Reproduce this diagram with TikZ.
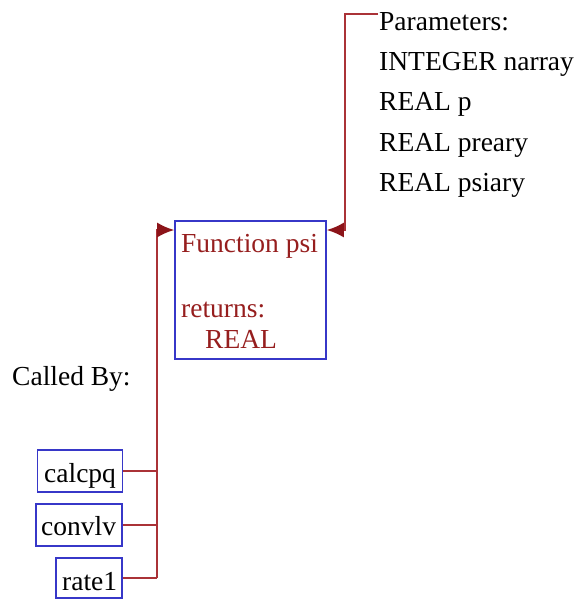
\documentclass[tikz,border=0pt]{standalone}
\usepackage{fontspec}
\setmainfont{Liberation Serif}
\usetikzlibrary{arrows.meta}
\definecolor{linered}{RGB}{170,50,55}
\definecolor{tipred}{RGB}{140,20,25}
\definecolor{boxblue}{RGB}{55,55,200}
\definecolor{txtred}{RGB}{150,30,30}
\tikzset{
  txt/.style={font=\fontsize{27.5}{27.5}\selectfont, inner sep=0pt, anchor=base west},
  redtxt/.style={txt, text=txtred},
  fbox/.style={draw=boxblue, line width=1.6pt, inner sep=0pt},
  conn/.style={draw=linered, line width=2pt},
  arr/.style={conn, -{Latex[length=17pt,width=15pt,color=tipred]}}
}
\begin{document}
\begin{tikzpicture}[x=1pt,y=-1pt]
\useasboundingbox (0,0) rectangle (583,600);
% main box
\node[fbox, minimum width=151pt, minimum height=138pt] (psi) at (250.5,290) {};
\node[redtxt] (fn) at (181,252) {Function psi};
\node[redtxt] (ret) at (181,317) {returns:};
\node[redtxt] (real) at (205,348) {REAL};
% parameters
\node[txt] (p0) at (379,30) {Parameters:};
\node[txt] (p1) at (379,70) {INTEGER narray};
\node[txt] (p2) at (379,110) {REAL p};
\node[txt] (p3) at (379,151) {REAL preary};
\node[txt] (p4) at (379,191) {REAL psiary};
% called by
\node[txt] (cb) at (12,385) {Called By:};
\node[fbox, minimum width=85pt, minimum height=42pt] (c1) at (80,471) {};
\node[txt] (c1t) at (44,482) {calcpq};
\node[fbox, minimum width=86pt, minimum height=42pt] (c2) at (79,525) {};
\node[txt] (c2t) at (41,535) {convlv};
\node[fbox, minimum width=66pt, minimum height=40pt] (c3) at (89,578) {};
\node[txt] (c3t) at (62,590) {rate1};
% connectors
\coordinate (pin) at (378,14);
\coordinate (vx) at (157,580);
\draw[arr] (pin) -- (345,14) -- (345,230) -- (psi.east |- 0,230);
\draw[conn] (c1.east) -- (c1.east -| vx);
\draw[conn] (c2.east) -- (c2.east -| vx);
\draw[conn] (c3.east) -- (c3.east -| vx);
\draw[arr] (c3.east -| vx) -- (157,230) -- (psi.west |- 0,230);
\end{tikzpicture}
\end{document}
